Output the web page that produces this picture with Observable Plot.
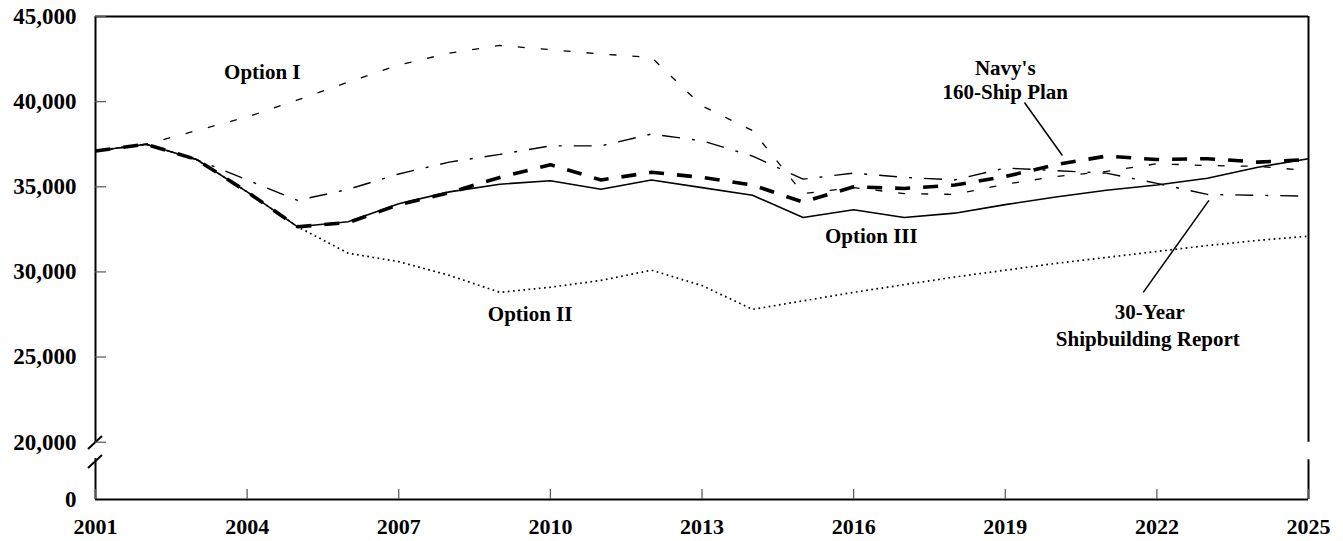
<!DOCTYPE html>
<html>
<head>
<meta charset="utf-8">
<script src="https://cdn.jsdelivr.net/npm/d3@7"></script>
<script src="https://cdn.jsdelivr.net/npm/@observablehq/plot@0.6"></script>
<style>
  html, body { margin: 0; padding: 0; background: #fff; }
  svg { display: block; }
</style>
</head>
<body>
<div id="chart"></div>
<script>
// ---- Data ----
const years = [2001, 2002, 2003, 2004, 2005, 2006, 2007, 2008, 2009, 2010, 2011, 2012, 2013,
               2014, 2015, 2016, 2017, 2018, 2019, 2020, 2021, 2022, 2023, 2024, 2025];

const optionI = [37100, 37500, 38300, 39100, 40100, 41150, 42150, 42850, 43300, 43050, 42800, 42600, 39750,
                 38300, 34600, 34950, 34600, 34550, 35150, 35600, 35900, 36350, 36250, 36200, 35950];

const optionII = [37100, 37500, 36600, 34700, 32650, 31100, 30600, 29800, 28800, 29100, 29500, 30100, 29200,
                  27800, 28300, 28800, 29250, 29700, 30100, 30500, 30850, 31200, 31550, 31850, 32100];

const optionIII = [37100, 37500, 36600, 34700, 32650, 32950, 34000, 34700, 35150, 35350, 34850, 35400, 34950,
                   34500, 33200, 33650, 33200, 33450, 33950, 34400, 34800, 35100, 35500, 36150, 36650];

const navyPlan = [37100, 37500, 36600, 34700, 32650, 32900, 33950, 34650, 35550, 36300, 35400, 35850, 35550,
                  35100, 34100, 35000, 34900, 35100, 35600, 36300, 36800, 36600, 36650, 36450, 36600];

const thirtyYear = [37100, 37500, 36600, 35400, 34200, 34850, 35750, 36450, 36900, 37400, 37400, 38100, 37700,
                    36800, 35450, 35800, 35550, 35400, 36100, 35950, 35800, 35200, 34550, 34500, 34450];

const yTicks = [20000, 25000, 30000, 35000, 40000, 45000];
const yBottomTick = [0];
const xTicks = [2001, 2004, 2007, 2010, 2013, 2016, 2019, 2022, 2025];

// label annotations (data space)
const labels = [
  {text: "Option I", year: 2004.3, value: 41700},
  {text: "Option II", year: 2009.6, value: 27500},
  {text: "Option III", year: 2016.35, value: 32080},
  {text: "Navy's", year: 2019.0, value: 41950},
  {text: "160-Ship Plan", year: 2019.0, value: 40540},
  {text: "30-Year", year: 2021.86, value: 27620},
  {text: "Shipbuilding Report", year: 2021.82, value: 26030}
];
const pointers = [
  {x1: 2019.38, y1: 39950, x2: 2020.13, y2: 36840},
  {x1: 2023.03, y1: 34200, x2: 2021.73, y2: 28800}
];

// broken axis: values below 20,000 are compressed into the short stub under the break
const breakAt = 20000;
const squeeze = 0.1683;
const brokenY = v => v >= breakAt ? v : breakAt - (breakAt - v) * squeeze;

// ---- Build rows ----
const series = [
  {name: "Option I", values: optionI, dash: "7,16", width: 1.3},
  {name: "Option II", values: optionII, dash: "1.7,3.5", width: 1.7},
  {name: "Option III", values: optionIII, dash: null, width: 1.6},
  {name: "30-Year Shipbuilding Report", values: thirtyYear, dash: "18,12,3,12", width: 1.4},
  {name: "Navy's 160-Ship Plan", values: navyPlan, dash: "15,13", width: 3.6}
];
const rowsFor = s => years.map((yr, i) => ({year: yr, value: s.values[i]}));

const lineMarks = series.map(s => Plot.line(rowsFor(s), {
  x: "year", y: "value", stroke: "black", strokeWidth: s.width,
  strokeDasharray: s.dash || undefined, strokeLinecap: "butt", strokeLinejoin: "miter"
}));

// axis break slashes drawn through the library's scales
const breakMark = (index, scales) => {
  const g = d3.create("svg:g").attr("stroke", "black").attr("stroke-width", 2);
  const x0 = scales.x(2001);
  const ya = scales.y(breakAt) + 0.8;
  for (const yy of [ya, ya + 19]) {
    g.append("line").attr("x1", x0 - 7).attr("y1", yy + 6.5).attr("x2", x0 + 7).attr("y2", yy - 6.5);
  }
  return g.node();
};

const chart = Plot.plot({
  width: 1343,
  height: 541,
  marginLeft: 95,
  marginRight: 35,
  marginTop: 16,
  marginBottom: 42,
  style: {fontFamily: "'Liberation Serif', 'Times New Roman', serif", fontWeight: "bold", color: "black", background: "white"},
  x: {domain: [2001, 2025]},
  y: {transform: brokenY, domain: [brokenY(0), 45000]},
  marks: [
    // frame
    Plot.ruleY([45000], {x1: 2001, x2: 2025, stroke: "black", strokeWidth: 2}),
    Plot.ruleY([0], {x1: 2001, x2: 2025, stroke: "black", strokeWidth: 2}),
    Plot.ruleX([2001], {y1: 19550, y2: 45000, stroke: "black", strokeWidth: 2}),
    Plot.ruleX([2001], {y1: 0, y2: 14300, stroke: "black", strokeWidth: 2}),
    Plot.ruleX([2025], {y1: 20000, y2: 45000, stroke: "black", strokeWidth: 2}),
    Plot.ruleX([2025], {y1: 0, y2: 13860, stroke: "black", strokeWidth: 2}),
    breakMark,
    // axes
    Plot.axisY({ticks: yTicks, tickSize: -11, tickPadding: 30, tickFormat: d3.format(","),
                fontSize: 23, fontWeight: "bold", label: null, stroke: "#555", strokeWidth: 1.2}),
    Plot.text(yBottomTick, {y: d => d, text: d3.format(","), frameAnchor: "left", dx: -19, textAnchor: "end",
                fontSize: 23, fontWeight: "bold", fill: "black"}),
    Plot.axisX({ticks: xTicks, tickSize: -10, tickPadding: 29, tickFormat: d => String(d),
                fontSize: 22, fontWeight: "bold", label: null, stroke: "#555", strokeWidth: 1.2}),
    // series
    ...lineMarks,
    // annotations
    Plot.link(pointers, {x1: "x1", y1: "y1", x2: "x2", y2: "y2", stroke: "black", strokeWidth: 1.5}),
    Plot.text(labels, {x: "year", y: "value", text: "text", fontSize: 21, fontWeight: "bold", fill: "black"})
  ]
});

document.getElementById("chart").appendChild(chart);
</script>
</body>
</html>
